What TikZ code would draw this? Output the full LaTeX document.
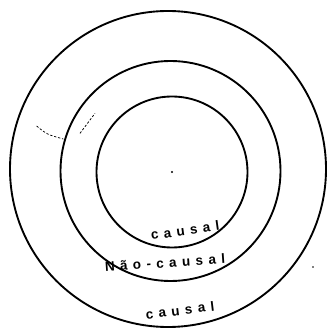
\documentclass[tikz,border=0pt]{standalone}
\usepackage{fontspec}
\newfontfamily\handfont[LetterSpace=40]{Liberation Sans}
\tikzset{
    ring/.style={draw, circle, line width=1.6pt, inner sep=0pt},
    lbltext/.style={font=\handfont\bfseries\fontsize{11.5}{12}\selectfont, inner sep=1pt},
    stray/.style={line width=0.6pt, dash pattern=on 2pt off 1.5pt}
}

\begin{document}
\begin{tikzpicture}
    \useasboundingbox (0,0) rectangle (9.93,9.93);
    \node (outer) [ring, minimum size=9.48cm] at (5.04,4.86) {};
    \node (middle) [ring, minimum size=6.60cm] at (5.115,4.80) {};
    \node (inner) [ring, minimum size=4.53cm] at (5.16,4.77) {};
    \fill (5.16,4.77) circle (1pt) coordinate (centre);

    \node (lblinner) [lbltext, rotate=8] at (5.55,3.02) {causal};
    \node (lblmiddle) [lbltext, rotate=4] at (4.95,2.05) {Não-causal};
    \node (lblouter) [lbltext, rotate=7] at (5.4,0.62) {causal};

    % stray pencil marks
    \coordinate (s1) at (1.10,6.15);
    \coordinate (s2) at (1.90,5.76);
    \coordinate (s3) at (2.40,5.93);
    \coordinate (s4) at (2.85,6.53);
    \draw [stray] (s1) .. controls (1.4,5.9) .. (s2);
    \draw [stray] (s3) -- (s4);
    \fill (9.39,1.92) circle (0.8pt) coordinate (speck);
\end{tikzpicture}
\end{document}
